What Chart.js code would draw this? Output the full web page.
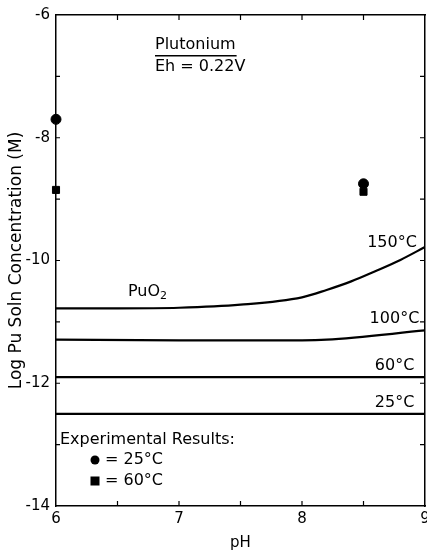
<!DOCTYPE html>
<html>
<head>
<meta charset="utf-8">
<script src="https://cdn.jsdelivr.net/npm/chart.js@4"></script>
<style>
  html, body { margin: 0; padding: 0; background: #fff; overflow: hidden; }
  #wrap { width: 427px; height: 552px; overflow: hidden; }
</style>
</head>
<body>
<div id="wrap"><canvas id="myChart" width="442" height="552"></canvas></div>
<script>
// curves
const pH150 = [6, 6.5, 7, 7.5, 8, 8.2, 8.4, 8.6, 8.8, 9];
const log150 = [-10.78, -10.78, -10.77, -10.72, -10.6, -10.48, -10.34, -10.17, -9.99, -9.78];
const pH100 = [6, 7, 8, 8.2, 9];
const log100 = [-11.29, -11.3, -11.3, -11.29, -11.14];
const pH60 = [6, 9];
const log60 = [-11.9, -11.9];
const pH25 = [6, 9];
const log25 = [-12.5, -12.5];

// experimental points
const exp25pH = [6, 8.5];
const exp25Log = [-7.7, -8.75];
const exp60pH = [6, 8.5];
const exp60Log = [-8.85, -8.88];

// tick labels
const xTicks = [6, 7, 8, 9];
const yTicks = [-6, -8, -10, -12, -14];

// curve labels: [text, pH, log]
const curveLabels = [
    ['150°C', 8.95, -9.72],
    ['100°C', 8.97, -10.95],
    ['60°C', 8.93, -11.72],
    ['25°C', 8.93, -12.32]
];

const FONT = '"DejaVu Sans", sans-serif';

function pts(xs, ys){
    return xs.map((x, i) => ({x: x, y: ys[i]}));
}

function lineSet(xs, ys){
    return {
        type: 'line',
        data: pts(xs, ys),
        borderColor: '#000',
        borderWidth: 2.2,
        pointRadius: 0,
        cubicInterpolationMode: 'monotone',
        fill: false
    };
}

const annotate = {
    id: 'annotate',
    afterDraw(chart){
        const ctx = chart.ctx;
        const xs = chart.scales.x, ys = chart.scales.y;
        const a = chart.chartArea;
        ctx.save();
        ctx.strokeStyle = '#000';
        ctx.lineWidth = 1.2;
        // inward minor ticks
        ctx.beginPath();
        [6.5, 7, 7.5, 8, 8.5].forEach(v => {
            const px = xs.getPixelForValue(v);
            ctx.moveTo(px, a.top); ctx.lineTo(px, a.top + 5);
            ctx.moveTo(px, a.bottom); ctx.lineTo(px, a.bottom - 5);
        });
        [-7, -8, -9, -10, -11, -12, -13].forEach(v => {
            const py = ys.getPixelForValue(v);
            ctx.moveTo(a.left, py); ctx.lineTo(a.left + 4, py);
            ctx.moveTo(a.right, py); ctx.lineTo(a.right - 5, py);
        });
        ctx.stroke();

        ctx.fillStyle = '#000';
        ctx.textBaseline = 'middle';
        ctx.font = '16px ' + FONT;
        // title
        ctx.textAlign = 'left';
        ctx.fillText('Plutonium', 155, 45);
        const w = ctx.measureText('Plutonium').width;
        ctx.fillRect(155, 55, w + 1, 1.5);
        ctx.fillText('Eh = 0.22V', 155, 67);
        // PuO2
        ctx.fillText('PuO', 128, 292);
        const pw = ctx.measureText('PuO').width;
        ctx.font = '11px ' + FONT;
        ctx.fillText('2', 128 + pw, 296);
        ctx.font = '16px ' + FONT;
        // curve labels
        ctx.textAlign = 'right';
        curveLabels.forEach(l => {
            ctx.fillText(l[0], xs.getPixelForValue(l[1]) - 2, ys.getPixelForValue(l[2]));
        });
        // experimental legend
        ctx.textAlign = 'left';
        ctx.fillText('Experimental Results:', 60, 440);
        ctx.beginPath();
        ctx.arc(95, 460, 4.5, 0, Math.PI * 2);
        ctx.fill();
        ctx.fillRect(90.5, 476.5, 9, 9);
        ctx.fillText('= 25°C', 105, 460);
        ctx.fillText('= 60°C', 105, 481);
        ctx.restore();
    }
};

const ctx = document.getElementById('myChart').getContext('2d');
const myChart = new Chart(ctx, {
    type: 'scatter',
    data: {
        datasets: [
            lineSet(pH150, log150),
            lineSet(pH100, log100),
            lineSet(pH60, log60),
            lineSet(pH25, log25),
            {
                data: pts(exp25pH, exp25Log),
                pointStyle: 'circle',
                pointRadius: 5,
                backgroundColor: '#000',
                borderColor: '#000',
                clip: false
            },
            {
                data: pts(exp60pH, exp60Log),
                pointStyle: 'rect',
                pointRadius: 5,
                backgroundColor: '#000',
                borderColor: '#000',
                clip: false
            }
        ]
    },
    options: {
        responsive: false,
        animation: false,
        layout: { padding: { top: 15, right: 17, left: 0, bottom: 0 } },
        plugins: { legend: { display: false }, tooltip: { enabled: false } },
        scales: {
            x: {
                type: 'linear',
                min: 6, max: 9,
                afterBuildTicks: s => { s.ticks = xTicks.map(v => ({value: v})); },
                afterFit: s => { s.height = 46; },
                grid: { display: false, drawTicks: false },
                border: { display: true, color: '#000', width: 1.5 },
                ticks: { color: '#000', font: { family: FONT, size: 15 }, padding: 4, maxRotation: 0 },
                title: { display: true, text: 'pH', color: '#000', font: { family: FONT, size: 15 }, padding: { top: 3, bottom: 0 } }
            },
            x2: {
                type: 'linear', position: 'top', min: 6, max: 9,
                grid: { display: false, drawTicks: false },
                border: { display: true, color: '#000', width: 1.5 },
                ticks: { display: false },
                afterFit: s => { s.height = 0; }
            },
            y: {
                type: 'linear',
                min: -14, max: -6,
                afterBuildTicks: s => { s.ticks = yTicks.map(v => ({value: v})); },
                afterFit: s => { s.width = 56; },
                grid: { display: false, drawOnChartArea: false, drawTicks: true, tickLength: 4, tickColor: '#000' },
                border: { display: true, color: '#000', width: 1.5 },
                ticks: { color: '#000', font: { family: FONT, size: 15 }, padding: 2 },
                title: { display: true, text: 'Log Pu Soln Concentration (M)', color: '#000', font: { family: FONT, size: 17 }, padding: { top: 6, bottom: 0 } }
            },
            y2: {
                type: 'linear', position: 'right', min: -14, max: -6,
                grid: { display: false, drawTicks: false },
                border: { display: true, color: '#000', width: 1.5 },
                ticks: { display: false },
                afterFit: s => { s.width = 0; }
            }
        }
    },
    plugins: [annotate]
});
</script>
</body>
</html>
